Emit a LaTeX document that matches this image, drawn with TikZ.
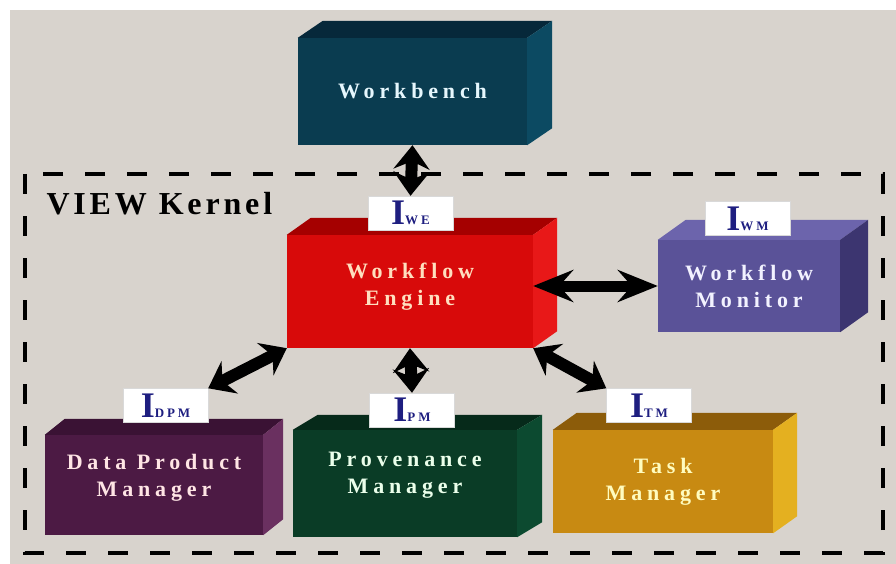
\documentclass[tikz,border=0pt]{standalone}
\usepackage{fontspec}
\setmainfont{Liberation Serif}
\newfontfamily\boxfont[LetterSpace=22]{Liberation Serif}
\newfontfamily\kernelfont[LetterSpace=12]{Liberation Serif}
\usepackage{tikz}
\usetikzlibrary{positioning,
				arrows.meta}

\definecolor{panelbg}{HTML}{D8D3CD}
\definecolor{ifcnavy}{HTML}{1E1E80}
\definecolor{wbfront}{HTML}{0A3C50}
\definecolor{wbtop}{HTML}{06283A}
\definecolor{wbside}{HTML}{0C4A62}
\definecolor{wefront}{HTML}{D80A0A}
\definecolor{wetop}{HTML}{A50000}
\definecolor{weside}{HTML}{E81818}
\definecolor{wmfront}{HTML}{5A5298}
\definecolor{wmtop}{HTML}{6C64AC}
\definecolor{wmside}{HTML}{3C3570}
\definecolor{dpmfront}{HTML}{4C1A44}
\definecolor{dpmtop}{HTML}{3A1234}
\definecolor{dpmside}{HTML}{6A3060}
\definecolor{pmfront}{HTML}{0A3C26}
\definecolor{pmtop}{HTML}{062A1A}
\definecolor{pmside}{HTML}{0C4A30}
\definecolor{tmfront}{HTML}{C88A12}
\definecolor{tmtop}{HTML}{8C5C0A}
\definecolor{tmside}{HTML}{E4B020}

% top and side faces of a block: node, depth x, depth y, top colour, side colour
\newcommand{\blockfaces}[5]{%
	\fill[#4] (#1.north west) -- ++(#2,#3) -- ([shift={(#2,#3)}]#1.north east) -- (#1.north east) -- cycle;
	\fill[#5] (#1.north east) -- ++(#2,#3) -- ([shift={(#2,#3)}]#1.south east) -- (#1.south east) -- cycle;}
% interface label
\newcommand{\ifc}[1]{{\fontsize{36}{36}\selectfont\bfseries I}{\boxfont\fontsize{13}{13}\selectfont\bfseries #1}}

\begin{document}
\begin{tikzpicture}[x=1pt,y=-1pt,
		block/.style={inner sep=0pt, align=center, font=\boxfont\fontsize{22}{27}\selectfont\bfseries},
		iface/.style={fill=white, draw=gray!30, inner sep=0pt, minimum width=85pt, minimum height=34pt, text=ifcnavy},
		link/.style={line width=12pt, {Stealth[length=24pt,width=36pt,inset=8pt]}-{Stealth[length=24pt,width=36pt,inset=8pt]}},
		longlink/.style={line width=11pt, {Stealth[length=40pt,width=32pt,inset=14pt]}-{Stealth[length=40pt,width=32pt,inset=14pt]}}]
	\useasboundingbox (0,0) rectangle (896,564);
	\fill[white] (0,0) rectangle (896,564);
	\fill[panelbg] (10,10) rectangle (896,564);
	\draw[line width=4pt, dash pattern=on 20pt off 22pt] (25,174) rectangle (883,553);
	\node[anchor=west, font=\kernelfont\fontsize{32}{32}\selectfont\bfseries] (kernel) at (43,204) {VIEW Kernel};

	% blocks
	\node[block, fill=wbfront, text=cyan!10, minimum width=229pt, minimum height=107pt] (wb) at (412.5,91.5) {Workbench};
	\blockfaces{wb}{25}{-17}{wbtop}{wbside}
	\node[block, fill=wefront, text=orange!25, minimum width=246pt, minimum height=113pt] (we) at (410,291.5) {Workflow\\Engine\\[-12pt]};
	\blockfaces{we}{24}{-17}{wetop}{weside}
	\node[block, fill=wmfront, text=blue!5, minimum width=182pt, minimum height=92pt] (wm) at (749,286) {Workflow\\Monitor};
	\blockfaces{wm}{28}{-20}{wmtop}{wmside}
	\node[block, fill=dpmfront, text=pink!40, minimum width=218pt, minimum height=100pt] (dpm) at (154,485) {Data Product\\Manager\\[-8pt]};
	\blockfaces{dpm}{20}{-16}{dpmtop}{dpmside}
	\node[block, fill=pmfront, text=green!8, minimum width=224pt, minimum height=107pt] (pm) at (405,483.5) {Provenance\\Manager\\[-6pt]};
	\blockfaces{pm}{25}{-15}{pmtop}{pmside}
	\node[block, fill=tmfront, text=yellow!25, minimum width=220pt, minimum height=103pt] (tm) at (663,481.5) {Task\\Manager};
	\blockfaces{tm}{24}{-17}{tmtop}{tmside}

	% interfaces
	\node[iface] (iwe) at (410.5,213) {\ifc{WE}};
	\node[iface] (iwm) at (747.5,218.5) {\ifc{WM}};
	\node[iface] (idpm) at (165.5,405.5) {\ifc{DPM}};
	\node[iface] (ipm) at (412,410) {\ifc{PM}};
	\node[iface] (itm) at (649,405.5) {\ifc{TM}};

	% connectors
	\draw[link] (wb.south) -- (iwe.north);
	\draw[longlink] (we.east |- wm.west) -- (wm.west);
	\draw[link] (we.south west) -- (idpm.north east);
	\draw[link] (we.south) -- (ipm.north);
	\draw[link] (we.south east) -- (itm.north west);
\end{tikzpicture}
\end{document}
